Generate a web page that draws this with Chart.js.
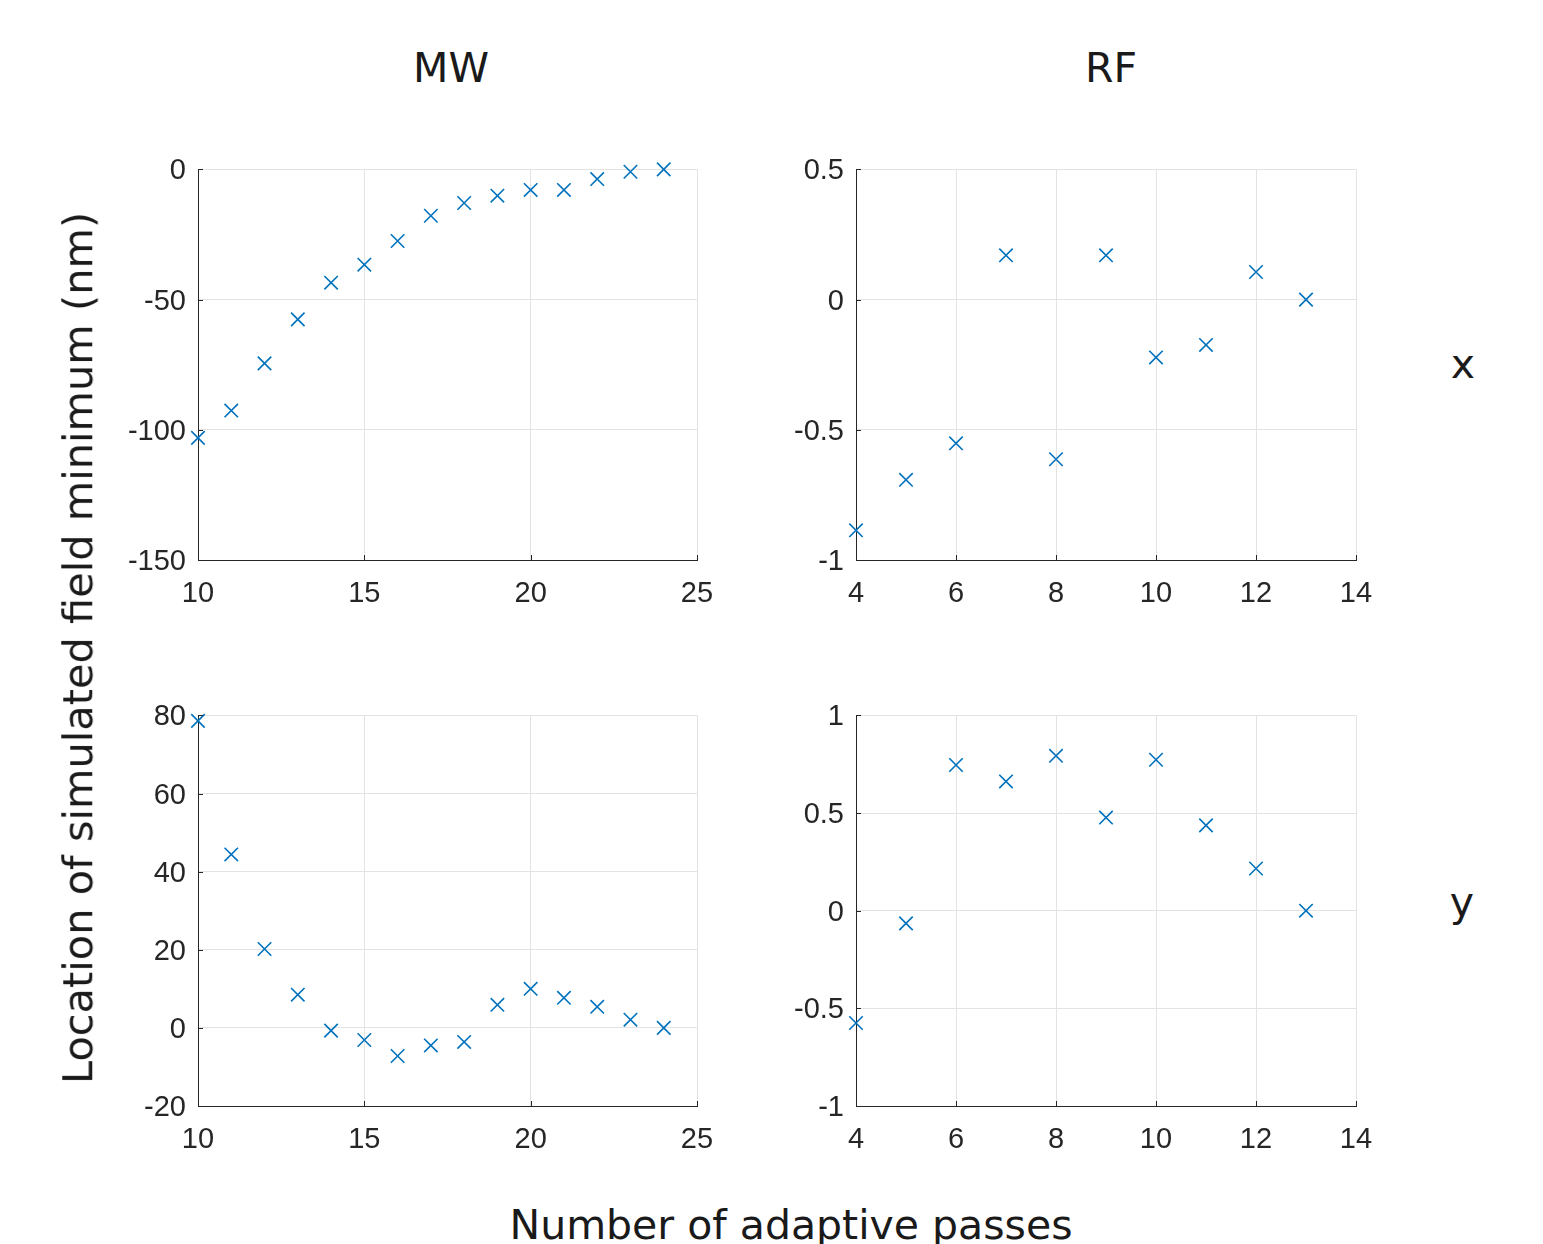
<!DOCTYPE html>
<html>
<head>
<meta charset="utf-8">
<script src="https://cdn.jsdelivr.net/npm/chart.js@4.4.1/dist/chart.umd.min.js"></script>
<style>
  html, body { margin: 0; padding: 0; background: #ffffff; }
  #wrap { position: relative; width: 1543px; height: 1244px; overflow: hidden; background: #fff; }
  canvas { position: absolute; }
  .lbl { position: absolute; font-family: "DejaVu Sans", sans-serif; color: #1a1a1a; white-space: nowrap; line-height: 1; }
</style>
</head>
<body>
<div id="wrap">
  <canvas id="cMWx" width="640" height="500" style="left:100px;top:140px"></canvas>
  <canvas id="cRFx" width="641" height="500" style="left:758px;top:140px"></canvas>
  <canvas id="cMWy" width="640" height="500" style="left:100px;top:686px"></canvas>
  <canvas id="cRFy" width="641" height="500" style="left:758px;top:686px"></canvas>

  <div class="lbl" id="tMW" style="left:451px;top:68px;font-size:41px;transform:translate(-50%,-50%);">MW</div>
  <div class="lbl" id="tRF" style="left:1111px;top:68px;font-size:41px;transform:translate(-50%,-50%);">RF</div>
  <div class="lbl" id="rx" style="left:1463px;top:364px;font-size:41px;transform:translate(-50%,-50%);">x</div>
  <div class="lbl" id="ry" style="left:1462px;top:902px;font-size:41px;transform:translate(-50%,-50%);">y</div>
  <div class="lbl" id="ylab" style="left:78px;top:648px;font-size:41.5px;transform:translate(-50%,-50%) rotate(-90deg);">Location of simulated field minimum (nm)</div>
  <div class="lbl" id="xlab" style="left:791px;top:1225px;font-size:41px;transform:translate(-50%,-50%);">Number of adaptive passes</div>
</div>
<script>
// ---------------- data ----------------
const mwPasses = [10, 11, 12, 13, 14, 15, 16, 17, 18, 19, 20, 21, 22, 23, 24];
const mwXmin   = [-103.1, -92.6, -74.5, -57.6, -43.5, -36.6, -27.5, -17.8, -12.9, -10.1, -7.9, -7.9, -3.7, -0.9, 0];
const mwYmin   = [78.6, 44.4, 20.2, 8.5, -0.7, -3.1, -7.2, -4.5, -3.6, 5.9, 10.0, 7.7, 5.4, 2.1, 0];

const rfPasses = [4, 5, 6, 7, 8, 9, 10, 11, 12, 13];
const rfXmin   = [-0.886, -0.692, -0.552, 0.170, -0.613, 0.170, -0.222, -0.174, 0.106, 0];
const rfYmin   = [-0.575, -0.065, 0.746, 0.662, 0.793, 0.477, 0.773, 0.437, 0.216, 0];

// axis ranges: [min, max, step]
const mwPassAxis = [10, 25, 5];
const rfPassAxis = [4, 14, 2];
const mwXAxis    = [-150, 0, 50];
const rfXAxis    = [-1, 0.5, 0.5];
const mwYAxis    = [-20, 80, 20];
const rfYAxis    = [-1, 1, 0.5];

// ---------------- drawing ----------------
const AXIS_COLOR = '#262626';
const GRID_COLOR = '#e3e3e3';
const MARK_COLOR = '#0072BD';
const TICK_FONT = { family: '"Liberation Sans", Arial, sans-serif', size: 29 };

const innerTicks = {
  id: 'innerTicks',
  afterDatasetsDraw(chart) {
    const ctx = chart.ctx;
    const a = chart.chartArea;
    const xs = chart.scales.x, ys = chart.scales.y;
    ctx.save();
    ctx.strokeStyle = AXIS_COLOR;
    ctx.lineWidth = 1;
    ctx.beginPath();
    xs.ticks.forEach(t => {
      const p = Math.round(xs.getPixelForValue(t.value)) + 0.5;
      ctx.moveTo(p, a.bottom);
      ctx.lineTo(p, a.bottom - 5);
    });
    ys.ticks.forEach(t => {
      const p = Math.round(ys.getPixelForValue(t.value)) + 0.5;
      ctx.moveTo(a.left, p);
      ctx.lineTo(a.left + 5, p);
    });
    ctx.stroke();
    ctx.restore();
  }
};

function makeChart(id, xsArr, ysArr, xAxis, yAxis, padRight) {
  const pts = xsArr.map((x, i) => ({ x: x, y: ysArr[i] }));
  return new Chart(document.getElementById(id), {
    type: 'scatter',
    data: {
      datasets: [{
        data: pts,
        pointStyle: 'crossRot',
        pointRadius: 9.5,
        pointHoverRadius: 9.5,
        borderColor: MARK_COLOR,
        backgroundColor: MARK_COLOR,
        borderWidth: 1.6,
        showLine: false,
        clip: false
      }]
    },
    options: {
      responsive: false,
      animation: false,
      devicePixelRatio: 1,
      events: [],
      layout: { padding: { left: 0, top: 28, right: padRight, bottom: 20 } },
      plugins: { legend: { display: false }, tooltip: { enabled: false } },
      scales: {
        x: {
          type: 'linear',
          min: xAxis[0], max: xAxis[1],
          afterFit(s) { s.height = 60; },
          afterBuildTicks(s) {
            const t = [];
            for (let v = xAxis[0]; v <= xAxis[1] + 1e-9; v += xAxis[2]) t.push({ value: +v.toFixed(6) });
            s.ticks = t;
          },
          grid: { color: GRID_COLOR, lineWidth: 1, drawTicks: false },
          border: { display: true, color: AXIS_COLOR, width: 1 },
          ticks: {
            padding: 17,
            color: AXIS_COLOR,
            font: TICK_FONT,
            maxRotation: 0, autoSkip: false,
            callback: v => String(v)
          }
        },
        y: {
          type: 'linear',
          min: yAxis[0], max: yAxis[1],
          afterFit(s) { s.width = 98; },
          afterBuildTicks(s) {
            const t = [];
            for (let v = yAxis[0]; v <= yAxis[1] + 1e-9; v += yAxis[2]) t.push({ value: +v.toFixed(6) });
            s.ticks = t;
          },
          grid: { color: GRID_COLOR, lineWidth: 1, drawTicks: false },
          border: { display: true, color: AXIS_COLOR, width: 1 },
          ticks: {
            padding: 12,
            labelOffset: 2,
            color: AXIS_COLOR,
            font: TICK_FONT,
            autoSkip: false,
            callback: v => String(v)
          }
        }
      }
    },
    plugins: [innerTicks]
  });
}

makeChart('cMWx', mwPasses, mwXmin, mwPassAxis, mwXAxis, 43);
makeChart('cRFx', rfPasses, rfXmin, rfPassAxis, rfXAxis, 43);
makeChart('cMWy', mwPasses, mwYmin, mwPassAxis, mwYAxis, 43);
makeChart('cRFy', rfPasses, rfYmin, rfPassAxis, rfYAxis, 43);
</script>
</body>
</html>
